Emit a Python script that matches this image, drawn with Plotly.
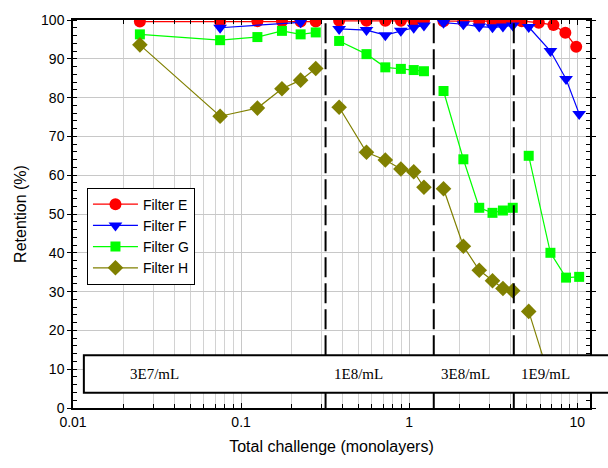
import math
import plotly.graph_objects as go

# ---- data ----
x_g1 = [0.025, 0.075, 0.125, 0.175, 0.226, 0.278]
x_g2 = [0.383, 0.557, 0.721, 0.892, 1.064, 1.224]
x_g3 = [1.60, 2.10, 2.61, 3.13, 3.61, 4.13]
x_g4 = [5.14, 6.92, 8.57, 10.26]
x_e4 = [4.67, 5.90, 7.21, 8.49, 9.85]

E_g1 = [99.6, 99.6, 99.7, 99.7, 99.6, 99.6]
E_g2 = [99.8, 99.8, 99.8, 99.8, 99.8, 99.8]
E_g3 = [99.7, 99.7, 99.7, 99.7, 99.7, 99.7]
E_g4 = [99.7, 99.3, 98.7, 96.7, 93.1]

F_x1 = [0.075, 0.226]
F_g1 = [98.0, 99.4]
F_g2 = [97.7, 97.4, 96.1, 97.2, 98.0, 98.6]
F_g3 = [99.3, 98.9, 98.3, 98.1, 98.3, 98.6]
F_g4 = [98.2, 92.0, 84.8, 75.8]

G_g1 = [96.3, 94.8, 95.6, 97.2, 96.3, 96.8]
G_g2 = [94.6, 91.2, 87.8, 87.4, 87.1, 86.8]
G_g3 = [81.7, 64.1, 51.6, 50.3, 50.9, 51.6]
G_g4 = [65.0, 40.0, 33.6, 33.8]

H_g1 = [93.6, 75.2, 77.3, 82.3, 84.5, 87.5]
H_g2 = [77.5, 65.9, 63.9, 61.6, 60.9, 56.9]
H_g3 = [56.5, 41.7, 35.5, 32.8, 30.8, 30.2]
H_x4 = [5.14, 6.92]
H_g4 = [24.9, 7.0]

boundaries = [0.318, 1.40, 4.19]
conc_labels = ["3E7/mL", "1E8/mL", "3E8/mL", "1E9/mL"]
conc_label_x = [0.0304, 0.498, 2.16, 6.47]

x_ticks = [0.01, 0.1, 1, 10]
x_ticktext = ["0.01", "0.1", "1", "10"]
y_ticks = list(range(0, 101, 10))


def join(xs, ys):
    X, Y = [], []
    for i, (a, b) in enumerate(zip(xs, ys)):
        if i:
            X.append(None)
            Y.append(None)
        X.extend(a)
        Y.extend(b)
    return X, Y


series = [
    ("Filter E", "#FF0000", "circle", 12, [x_g1, x_g2, x_g3, x_e4], [E_g1, E_g2, E_g3, E_g4]),
    ("Filter F", "#0000FF", "triangle-down", 12, [F_x1, x_g2, x_g3, x_g4], [F_g1, F_g2, F_g3, F_g4]),
    ("Filter G", "#00FF00", "square", 10, [x_g1, x_g2, x_g3, x_g4], [G_g1, G_g2, G_g3, G_g4]),
    ("Filter H", "#808000", "diamond", 12, [x_g1, x_g2, x_g3, H_x4], [H_g1, H_g2, H_g3, H_g4]),
]

fig = go.Figure()
for name, col, sym, sz, xs, ys in series:
    X, Y = join(xs, ys)
    fig.add_trace(go.Scatter(
        x=X, y=Y, name=name, mode="lines+markers", connectgaps=False,
        line=dict(color=col, width=1.2),
        marker=dict(symbol=sym, size=sz, color=col, line=dict(width=0)),
    ))

minor_x = [m * 10 ** e for e in range(-2, 2) for m in range(2, 10)]

shapes = []
box_lo, box_hi = 3.9, 13.6
for b in boundaries:
    shapes.append(dict(type="line", xref="x", yref="y", x0=b, x1=b, y0=box_hi, y1=100,
                       line=dict(color="black", width=2, dash="20px,6px"), layer="above"))
    shapes.append(dict(type="line", xref="x", yref="y", x0=b, x1=b, y0=0, y1=box_lo,
                       line=dict(color="black", width=2), layer="above"))
shapes.append(dict(type="rect", xref="paper", yref="y", x0=0.021, x1=1.1, y0=box_lo, y1=box_hi,
                   fillcolor="white", line=dict(color="black", width=2), layer="above"))

annotations = [
    dict(x=math.log10(cx), y=(box_lo + box_hi) / 2, xref="x", yref="y", text=t, showarrow=False,
         font=dict(family="Liberation Serif, Times New Roman, serif", size=15, color="black"))
    for t, cx in zip(conc_labels, conc_label_x)
]

fig.update_layout(
    width=608, height=468,
    margin=dict(l=73, r=13, t=19, b=60),
    paper_bgcolor="white", plot_bgcolor="white",
    font=dict(family="Arial, Liberation Sans, sans-serif", size=14, color="black"),
    showlegend=True,
    legend=dict(x=0.027, y=0.568, xanchor="left", yanchor="top",
                bgcolor="white", bordercolor="black", borderwidth=1,
                font=dict(size=14), tracegroupgap=0, itemwidth=45),
    shapes=shapes,
    annotations=annotations,
)

fig.update_xaxes(
    type="log", range=[-2, math.log10(11.9)],
    tickmode="array", tickvals=x_ticks, ticktext=x_ticktext,
    ticks="inside", ticklen=5, tickcolor="black",
    showgrid=True, gridcolor="#C8C8C8", gridwidth=1,
    showline=True, linecolor="black", linewidth=1.5, mirror="ticks",
    minor=dict(tickmode="array", tickvals=minor_x, ticks="inside", ticklen=4, tickcolor="black",
               showgrid=True, gridcolor="#D2D2D2", gridwidth=1),
    zeroline=False,
    title=dict(text="Total challenge (monolayers)", font=dict(size=16), standoff=12),
    tickfont=dict(size=14),
)
fig.update_yaxes(
    range=[0, 100], tickmode="array", tickvals=y_ticks,
    ticks="outside", ticklen=4, tickcolor="black",
    showgrid=True, gridcolor="#C8C8C8", gridwidth=1,
    showline=True, linecolor="black", linewidth=1.5, mirror="ticks",
    minor=dict(dtick=2, ticks="inside", ticklen=4, tickcolor="black", showgrid=False),
    zeroline=False,
    title=dict(text="Retention (%)", font=dict(size=16), standoff=10),
    tickfont=dict(size=14),
)

fig.write_html("out.html")
